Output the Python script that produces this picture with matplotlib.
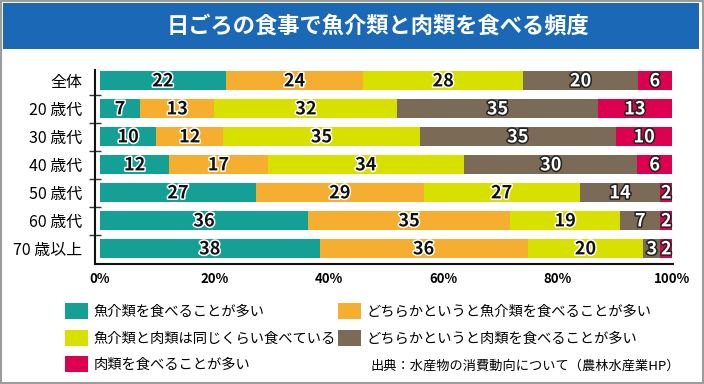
import matplotlib
matplotlib.use("Agg")
import matplotlib.pyplot as plt
import matplotlib.patheffects as pe
from matplotlib.patches import Rectangle, Patch
import numpy as np

plt.rcParams['font.family'] = ['Noto Sans CJK JP', 'DejaVu Sans']

title = "日ごろの食事で魚介類と肉類を食べる頻度"
categories = ["全体", "20 歳代", "30 歳代", "40 歳代", "50 歳代", "60 歳代", "70 歳以上"]
series_names = ["魚介類を食べることが多い",
                "どちらかというと魚介類を食べることが多い",
                "魚介類と肉類は同じくらい食べている",
                "どちらかというと肉類を食べることが多い",
                "肉類を食べることが多い"]
fish_mostly = [22, 7, 10, 12, 27, 36, 38]
fish_rather = [24, 13, 12, 17, 29, 35, 36]
same = [28, 32, 35, 34, 27, 19, 20]
meat_rather = [20, 35, 35, 30, 14, 7, 3]
meat_mostly = [6, 13, 10, 6, 2, 2, 2]
colors = ["#15a096", "#f5ae2f", "#d8e000", "#7b6a56", "#dc0050"]
xtick_values = [0, 20, 40, 60, 80, 100]
source = "出典：水産物の消費動向について（農林水産業HP）"

series = [fish_mostly, fish_rather, same, meat_rather, meat_mostly]
data = np.array(series, dtype=float)
totals = data.sum(axis=0)
norm = data / totals * 100

W, H = 704, 384
fig = plt.figure(figsize=(W / 100, H / 100), dpi=100)

# frame and title bar
fig.patches.append(Rectangle((1 / W, 1 / H), 702 / W, 382 / H, transform=fig.transFigure,
                             fill=False, edgecolor="#9c9c9c", lw=1.5, zorder=0))
fig.patches.append(Rectangle((3 / W, 1 - 49 / H), 696 / W, 46 / H, transform=fig.transFigure,
                             facecolor="#1a68b6", edgecolor="none", zorder=1))
fig.text(378 / W, 1 - 26 / H, title, color="white", fontsize=16, fontweight="bold",
         ha="center", va="center")

ax = fig.add_axes([95 / W, 1 - 264 / H, (673 - 95) / W, (264 - 70) / H])
y = np.arange(len(categories))
left = np.zeros(len(categories))
for i in range(len(series)):
    ax.barh(y, norm[i], left=left, height=0.68, color=colors[i], edgecolor="none")
    dark = i >= 3
    for j in range(len(categories)):
        cx = left[j] + norm[i][j] / 2
        if dark:
            fc, sc = "white", "#222222"
        else:
            fc, sc = "#111111", "white"
        ax.text(cx, y[j], str(series[i][j]), ha="center", va="center", fontsize=13,
                fontweight="bold", color=fc,
                path_effects=[pe.withStroke(linewidth=2.2, foreground=sc)])
    left = left + norm[i]

ax.set_xlim(-0.87, 100.17)
ax.set_ylim(6.54, -0.39)
ax.set_yticks(y)
ax.set_yticklabels(categories, fontsize=11.5)
ax.set_yticks(np.arange(0.5, len(categories) - 1, 1), minor=True)
ax.tick_params(axis="y", which="major", length=0, pad=9)
ax.tick_params(axis="y", which="minor", length=9, width=1, direction="inout", color="#333333")
ax.set_xticks(xtick_values)
ax.set_xticklabels([f"{v}%" for v in xtick_values], fontsize=9.5, fontweight="bold")
ax.tick_params(axis="x", length=0, pad=6)
for s in ["top", "right"]:
    ax.spines[s].set_visible(False)
for s in ["left", "bottom"]:
    ax.spines[s].set_linewidth(1.5)
    ax.spines[s].set_color("#111111")

order = [0, 2, 4, 1, 3]
handles = [Patch(facecolor=colors[k], edgecolor="none") for k in order]
labels = [series_names[k] for k in order]
fig.legend(handles, labels, ncol=2, loc="upper left", bbox_to_anchor=(65 / W, 1 - 303 / H),
           frameon=False, fontsize=10.3, handlelength=1.6, handleheight=1.33,
           handletextpad=0.4, columnspacing=0.15, labelspacing=0.76,
           borderpad=0, borderaxespad=0)

fig.text(680 / W, 1 - 366 / H, source, fontsize=9.5, ha="right", va="center")

fig.savefig("out.png", dpi=100)
